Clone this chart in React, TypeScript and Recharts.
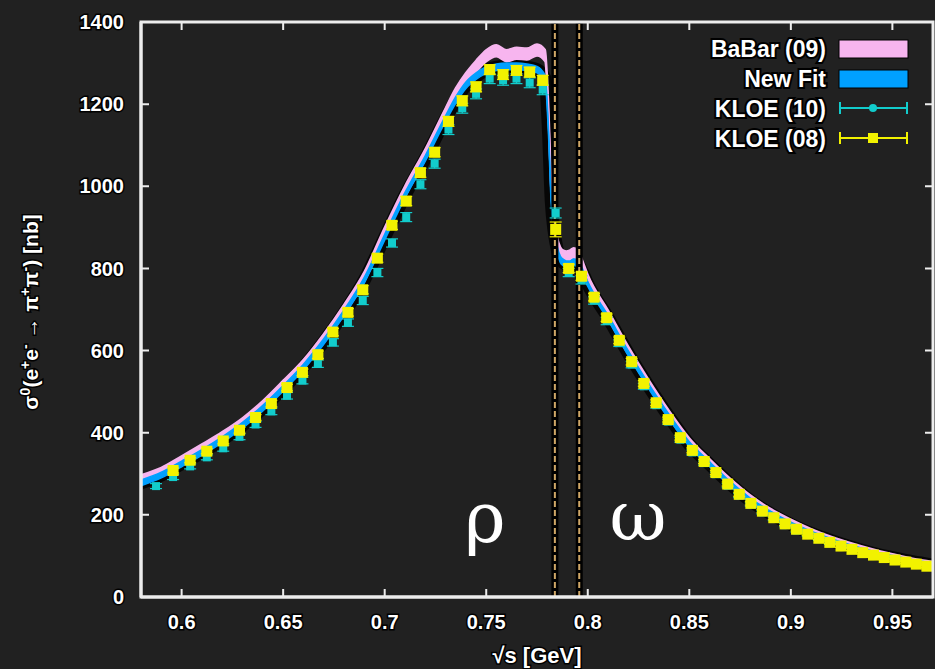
import React from 'react';
import { ComposedChart, Area, Scatter, XAxis, YAxis, ReferenceLine, ErrorBar } from 'recharts';

// Band grid (sqrt(s) in GeV)
const bandX = [
  0.58, 0.59, 0.60, 0.61, 0.62, 0.63, 0.64, 0.65, 0.66, 0.67, 0.68, 0.69, 0.70, 0.71, 0.72, 0.73,
  0.735, 0.74, 0.745, 0.75, 0.755, 0.76, 0.765, 0.77, 0.775, 0.779,
  0.7805, 0.782, 0.7835, 0.785, 0.7865, 0.788, 0.7895, 0.791, 0.793, 0.795, 0.797,
  0.80, 0.81, 0.82, 0.83, 0.84, 0.85, 0.86, 0.87, 0.88, 0.89, 0.90, 0.91, 0.92, 0.93, 0.94, 0.95, 0.96, 0.97,
];
// BaBar (09) cross-section [nb]
const babarVal = [
  287, 305, 333, 362, 392, 426, 468, 516, 567, 630, 700, 780, 888, 988, 1078, 1178,
  1225, 1262, 1292, 1318, 1330, 1318, 1324, 1322, 1332, 1318,
  1200, 1000, 910, 862, 840, 832, 830, 832, 838, 834, 812,
  775, 688, 600, 520, 445, 378, 328, 281, 240, 208, 182, 159, 141, 125, 111, 99, 88, 80,
];
const babarErr = [
  10, 10, 10, 10, 10, 10, 10, 11, 11, 11, 12, 12, 12, 13, 13, 13,
  14, 14, 14, 14, 14, 14, 14, 14, 14, 14,
  14, 14, 14, 12, 12, 12, 12, 12, 12, 12, 12,
  10, 10, 10, 9, 9, 9, 8, 8, 8, 7, 7, 7, 6, 6, 6, 6, 6, 6,
];
// New Fit [nb]
const fitVal = [
  278, 297, 324, 352, 383, 418, 460, 508, 560, 622, 692, 772, 876, 978, 1068, 1165,
  1210, 1246, 1268, 1283, 1290, 1292, 1292, 1290, 1284, 1262,
  1150, 965, 888, 845, 822, 814, 810, 810, 815, 812, 795,
  762, 680, 593, 513, 439, 372, 323, 276, 235, 203, 177, 155, 137, 121, 107, 96, 86, 78,
];
const fitErr = [
  7, 7, 7, 7, 7, 7, 7, 7, 7, 7, 7, 7, 7, 7, 7, 7,
  8, 8, 8, 8, 8, 8, 8, 8, 8, 8,
  8, 8, 8, 8, 8, 8, 8, 8, 8, 8, 8,
  6, 6, 6, 6, 6, 6, 6, 6, 6, 6, 5, 5, 5, 5, 5, 5, 5, 5,
];

// KLOE (08)
const kloe08X = [
  0.5958, 0.6042, 0.6124, 0.6205, 0.6285, 0.6364, 0.6442, 0.6519, 0.6595, 0.6671,
  0.6745, 0.6819, 0.6892, 0.6964, 0.7036, 0.7106, 0.7176, 0.7246, 0.7314, 0.7382,
  0.7450, 0.7517, 0.7583, 0.7649, 0.7714, 0.7778, 0.7842, 0.7906, 0.7969, 0.8031,
  0.8093, 0.8155, 0.8216, 0.8276, 0.8337, 0.8396, 0.8456, 0.8515, 0.8573, 0.8631,
  0.8689, 0.8746, 0.8803, 0.8860, 0.8916, 0.8972, 0.9028, 0.9083, 0.9138, 0.9192,
  0.9247, 0.9301, 0.9354, 0.9407, 0.9460, 0.9513, 0.9566, 0.9618, 0.9670,
];
const kloe08Y = [
  308, 333, 355, 380, 406, 437, 471, 510, 547, 590,
  645, 693, 748, 825, 905, 964, 1033, 1083, 1158, 1208,
  1242, 1284, 1272, 1282, 1278, 1258, 895, 800, 781, 730,
  680, 625, 573, 520, 473, 432, 388, 357, 330, 303,
  275, 250, 228, 209, 193, 178, 165, 153, 143, 133,
  124, 116, 108, 102, 96, 90, 85, 80, 75,
];
const kloe08Err = [
  6, 6, 6, 7, 7, 7, 8, 8, 8, 9,
  9, 9, 10, 10, 10, 11, 11, 11, 12, 12,
  12, 12, 12, 12, 12, 12, 18, 10, 10, 9,
  9, 8, 8, 7, 7, 6, 6, 6, 5, 5,
  5, 5, 4, 4, 4, 4, 4, 3, 3, 3,
  3, 3, 3, 3, 3, 3, 3, 3, 3,
];

// KLOE (10)
const kloe10X = [
  0.5874, 0.5958, 0.6042, 0.6124, 0.6205, 0.6285, 0.6364, 0.6442, 0.6519, 0.6595,
  0.6671, 0.6745, 0.6819, 0.6892, 0.6964, 0.7036, 0.7106, 0.7176, 0.7246, 0.7314,
  0.7382, 0.7450, 0.7517, 0.7583, 0.7649, 0.7714, 0.7778, 0.7842, 0.7906, 0.7969,
  0.8031, 0.8093, 0.8155, 0.8216, 0.8276, 0.8337, 0.8396, 0.8456, 0.8515, 0.8573,
  0.8631, 0.8689, 0.8746, 0.8803, 0.8860, 0.8916, 0.8972, 0.9028, 0.9083, 0.9138, 0.9192,
];
const kloe10Y = [
  270, 292, 318, 340, 362, 390, 420, 452, 490, 527,
  568, 620, 668, 722, 790, 862, 925, 1005, 1055, 1138,
  1190, 1225, 1262, 1258, 1262, 1252, 1235, 935, 790, 772,
  722, 672, 618, 566, 513, 467, 427, 383, 352, 326,
  299, 271, 247, 225, 206, 190, 175, 162, 151, 141, 131,
];
const kloe10Err = [
  6, 6, 6, 6, 7, 7, 7, 8, 8, 8,
  9, 9, 9, 10, 10, 10, 11, 11, 11, 12,
  12, 12, 12, 12, 12, 12, 12, 12, 10, 10,
  9, 9, 8, 8, 7, 7, 6, 6, 6, 5,
  5, 5, 5, 4, 4, 4, 4, 4, 3, 3, 3,
];

const xDomain = [0.58, 0.97];
const yDomain = [0, 1400];
const xTicks = [0.6, 0.65, 0.7, 0.75, 0.8, 0.85, 0.9, 0.95];
const yTicks = [0, 200, 400, 600, 800, 1000, 1200, 1400];
const omegaLines = [0.7838, 0.7958];
const legendLabels = ['BaBar (09)', 'New Fit', 'KLOE (10)', 'KLOE (08)'];

const PINK = '#f7b5ef';
const BLUE = '#00a0ff';
const CYAN = '#12cccc';
const YELLOW = '#f2f200';
const FRAME = '#ededed';
const BG = '#212121';

// chart geometry
const W = 935;
const H = 669;
const M = { top: 22, right: 2, bottom: 0, left: 0 };
const Y_AXIS_W = 141;
const X_AXIS_H = 72;
const PL = M.left + Y_AXIS_W;
const PR = W - M.right;
const PT = M.top;
const PB = H - M.bottom - X_AXIS_H;
const TICK = 8;
const px = (v: number) => PL + ((v - xDomain[0]) / (xDomain[1] - xDomain[0])) * (PR - PL);
const py = (v: number) => PB - ((v - yDomain[0]) / (yDomain[1] - yDomain[0])) * (PB - PT);

const tickPath =
  xTicks.map((t) => `M${px(t)},${PB}V${PB - TICK}M${px(t)},${PT}V${PT + TICK}`).join('') +
  yTicks.map((t) => `M${PL},${py(t)}H${PL + TICK}M${PR},${py(t)}H${PR - TICK}`).join('');

const bandData = bandX.map((x, i) => ({
  x,
  babar: [babarVal[i] - babarErr[i], babarVal[i] + babarErr[i]],
  fit: [fitVal[i] - fitErr[i], fitVal[i] + fitErr[i]],
  halo: fitVal[i],
}));
const kloe08Data = kloe08X.map((x, i) => ({ x, y: kloe08Y[i], err: kloe08Err[i] }));
const kloe10Data = kloe10X.map((x, i) => ({ x, y: kloe10Y[i], err: kloe10Err[i] }));

const textFont = '"Liberation Sans", Arial, sans-serif';
const serifFont = '"DejaVu Serif", "Liberation Serif", serif';

const tickStyle = {
  fill: '#ffffff',
  fontSize: 20,
  fontWeight: 'bold',
  fontFamily: textFont,
  stroke: '#000',
  strokeWidth: 3,
  paintOrder: 'stroke',
} as any;

const YellowSquare = (p: any) => (
  <rect x={p.cx - 5.5} y={p.cy - 5.5} width={11} height={11} fill={YELLOW} />
);
const CyanSquare = (p: any) => (
  <rect x={p.cx - 4} y={p.cy - 4} width={8} height={8} fill={CYAN} />
);

export default function App() {
  return (
    <div style={{ position: 'absolute', left: 0, top: 0, width: W, height: H, background: BG, overflow: 'hidden' }}>
      <ComposedChart width={W} height={H} data={bandData} margin={M}>
        <XAxis
          dataKey="x"
          type="number"
          domain={xDomain}
          allowDataOverflow
          ticks={xTicks}
          tickFormatter={(v: number) => String(v)}
          height={X_AXIS_H}
          tickSize={-8}
          tickMargin={26}
          stroke={FRAME}
          axisLine={{ stroke: FRAME, strokeWidth: 3 }}
          tickLine={false}
          tick={tickStyle}
        />
        <YAxis
          type="number"
          domain={yDomain}
          allowDataOverflow
          ticks={yTicks}
          width={Y_AXIS_W}
          tickSize={-8}
          tickMargin={25}
          stroke={FRAME}
          axisLine={{ stroke: FRAME, strokeWidth: 3 }}
          tickLine={false}
          tick={tickStyle}
        />
        <Area
          dataKey="halo"
          type="monotone"
          fill="none"
          stroke="#000"
          strokeOpacity={0.8}
          strokeWidth={13}
          isAnimationActive={false}
          dot={false}
          activeDot={false}
        />
        {omegaLines.map((x) => (
          <ReferenceLine key={'b' + x} x={x} stroke="#000" strokeWidth={7} />
        ))}
        {omegaLines.map((x) => (
          <ReferenceLine key={'d' + x} x={x} stroke="#cfa767" strokeWidth={2} strokeDasharray="6 3" />
        ))}
        <Area
          dataKey="babar"
          type="monotone"
          fill={PINK}
          fillOpacity={1}
          stroke={PINK}
          strokeWidth={2}
          isAnimationActive={false}
          dot={false}
          activeDot={false}
        />
        <Area
          dataKey="fit"
          type="monotone"
          fill={BLUE}
          fillOpacity={1}
          stroke={BLUE}
          strokeWidth={1.5}
          isAnimationActive={false}
          dot={false}
          activeDot={false}
        />
        <Scatter data={kloe10Data} dataKey="y" shape={CyanSquare} isAnimationActive={false}>
          <ErrorBar dataKey="err" direction="y" width={6} stroke={CYAN} strokeWidth={1.2} />
        </Scatter>
        <Scatter data={kloe08Data} dataKey="y" shape={YellowSquare} isAnimationActive={false}>
          <ErrorBar dataKey="err" direction="y" width={6} stroke={YELLOW} strokeWidth={1.2} />
        </Scatter>
      </ComposedChart>

      <svg width={W} height={H} style={{ position: 'absolute', left: 0, top: 0, pointerEvents: 'none' }}>
        {/* plot frame and inward ticks on all four sides */}
        <rect x={PL} y={PT} width={PR - PL} height={PB - PT} fill="none" stroke={FRAME} strokeWidth={3} />
        <path d={tickPath} fill="none" stroke={FRAME} strokeWidth={2} />

        {/* rho / omega */}
        <text x={485} y={542} textAnchor="middle" fontSize={70} fill="#fff" fontFamily={serifFont}>ρ</text>
        <text x={638} y={540} textAnchor="middle" fontSize={70} fill="#fff" fontFamily={serifFont}>ω</text>

        {/* legend */}
        {legendLabels.map((lab, i) => (
          <text key={lab} x={826} y={49 + i * 30} textAnchor="end" dominantBaseline="central"
            fontSize={23} fontWeight="bold" fontFamily={textFont} fill="#fff"
            stroke="#000" strokeWidth={4} paintOrder="stroke">{lab}</text>
        ))}
        <rect x={839} y={40} width={69} height={18} fill={PINK} stroke="#000" strokeWidth={1} />
        <rect x={839} y={70} width={69} height={18} fill={BLUE} stroke="#000" strokeWidth={1} />
        <g stroke={CYAN} strokeWidth={2}>
          <line x1={840} y1={108} x2={907} y2={108} />
          <line x1={840} y1={102} x2={840} y2={114} />
          <line x1={907} y1={102} x2={907} y2={114} />
        </g>
        <circle cx={873} cy={108} r={4} fill={CYAN} />
        <g stroke={YELLOW} strokeWidth={2}>
          <line x1={840} y1={138} x2={907} y2={138} />
          <line x1={840} y1={132} x2={840} y2={144} />
          <line x1={907} y1={132} x2={907} y2={144} />
        </g>
        <rect x={868} y={133} width={10} height={10} fill={YELLOW} />

        {/* axis titles */}
        <text x={537} y={655} textAnchor="middle" dominantBaseline="central" fontSize={22}
          fontWeight="bold" fontFamily={textFont} fill="#fff" stroke="#000" strokeWidth={3}
          paintOrder="stroke">√s [GeV]</text>
        <text transform="translate(38,312) rotate(-90)" textAnchor="middle" fontSize={21}
          fontWeight="bold" fontFamily={textFont} fill="#fff" stroke="#000" strokeWidth={3}
          paintOrder="stroke">
          σ<tspan dy={-8} fontSize={14}>0</tspan>
          <tspan dy={8}>(e</tspan><tspan dy={-8} fontSize={14}>+</tspan>
          <tspan dy={8}>e</tspan><tspan dy={-8} fontSize={14}>-</tspan>
          <tspan dy={8}> → π</tspan><tspan dy={-8} fontSize={14}>+</tspan>
          <tspan dy={8}>π</tspan><tspan dy={-8} fontSize={14}>-</tspan>
          <tspan dy={8}>) [nb]</tspan>
        </text>
      </svg>
    </div>
  );
}
